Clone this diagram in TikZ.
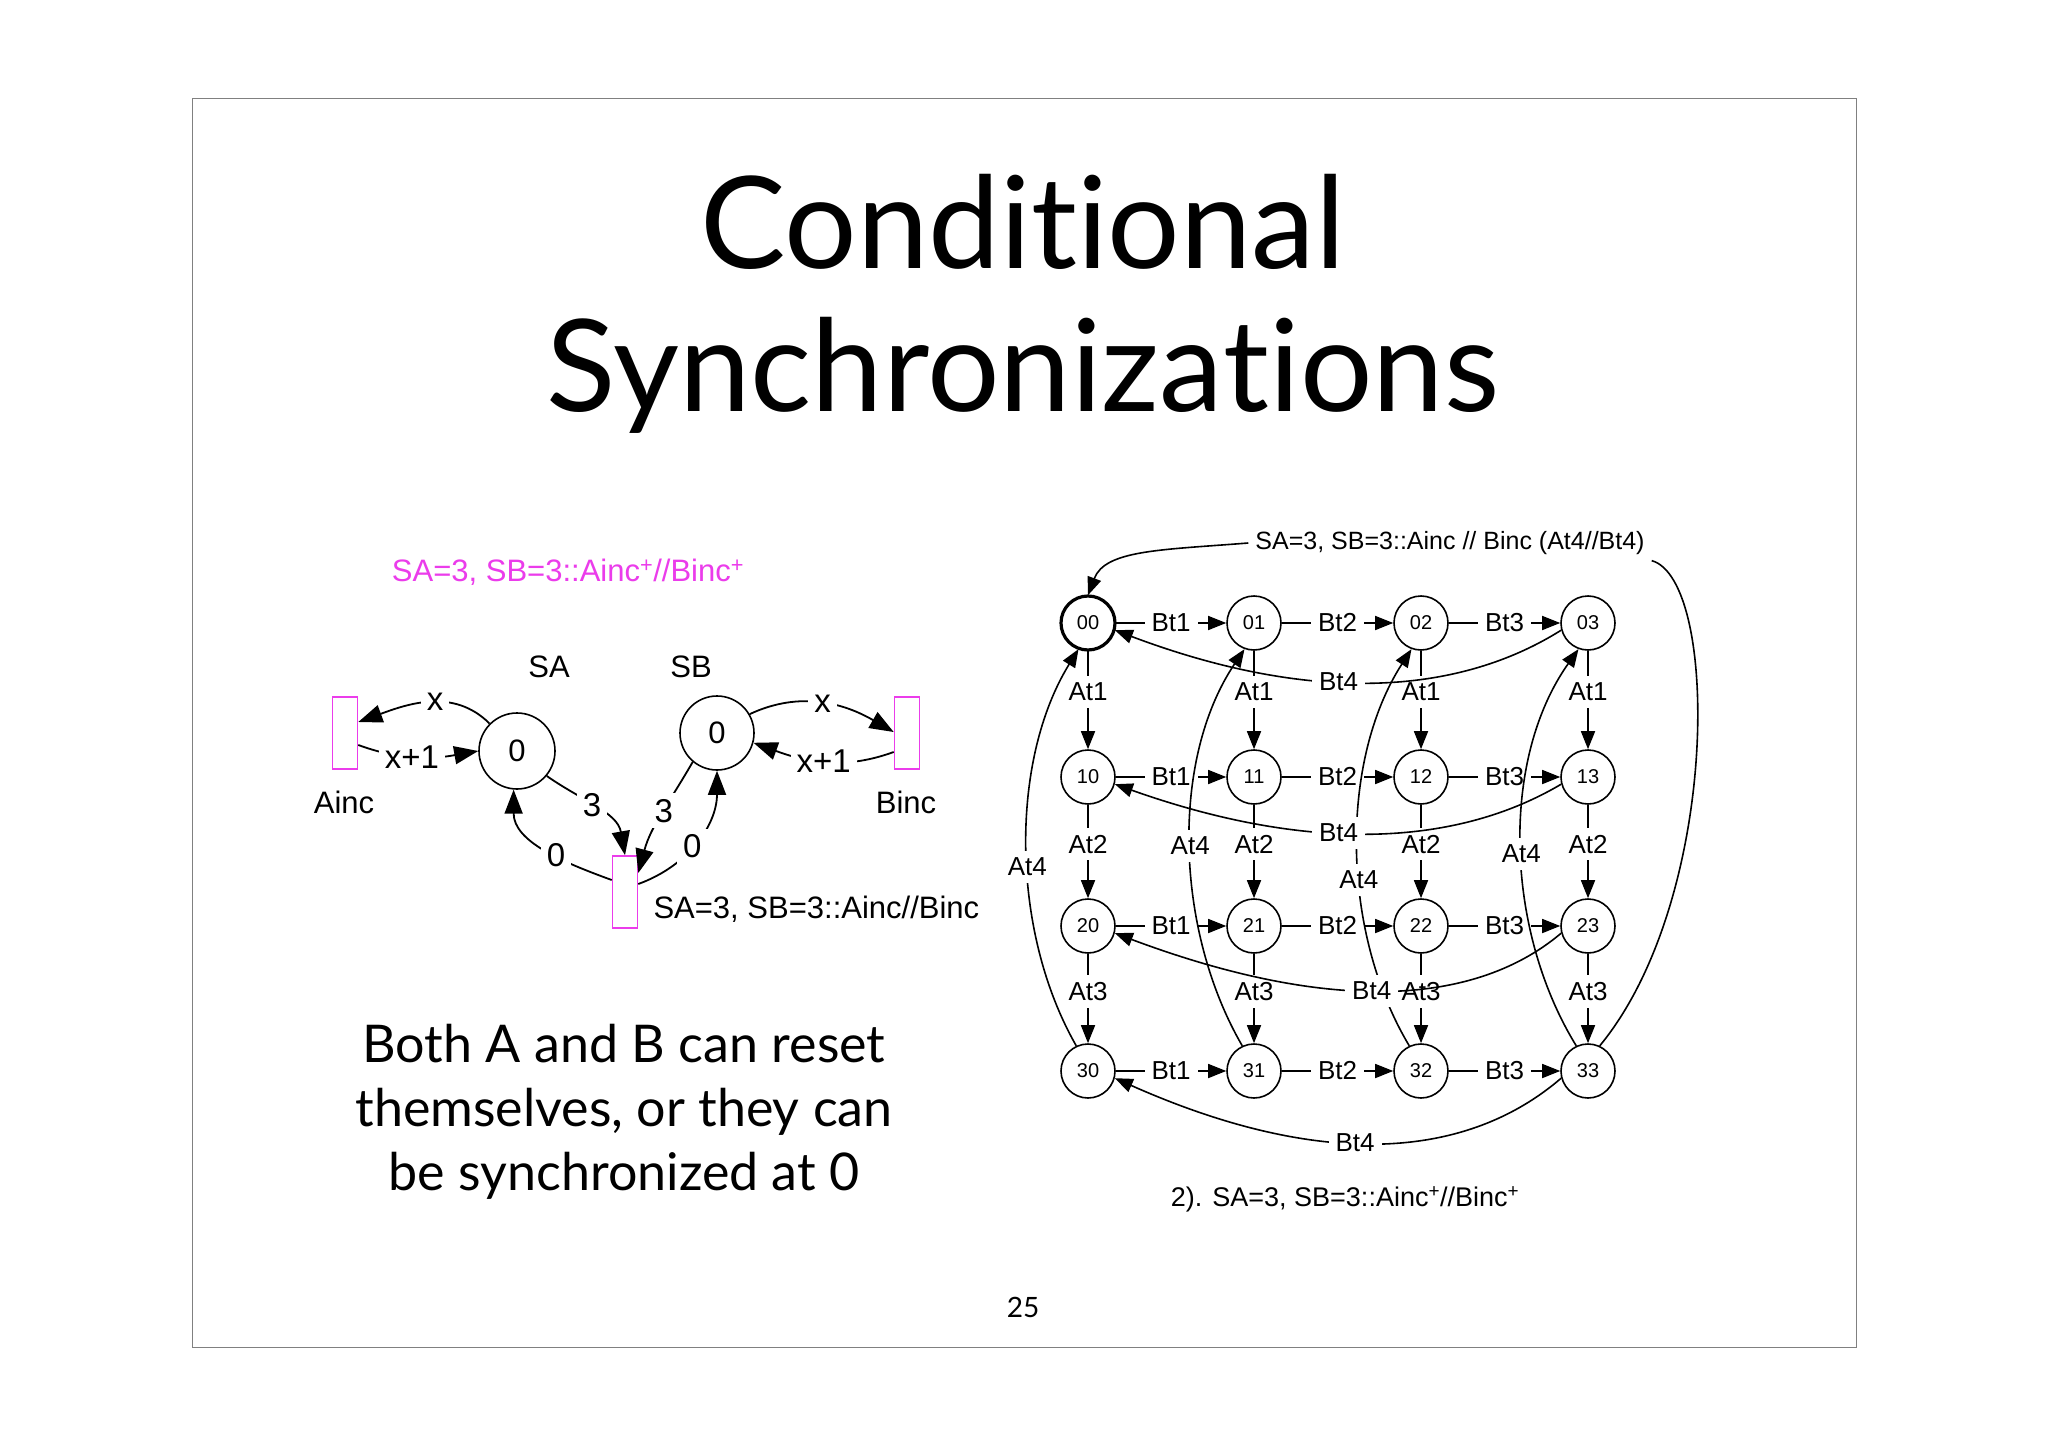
\documentclass[tikz,border=0pt]{standalone}
\usepackage{fontspec}
\setmainfont{Liberation Sans}
\newfontfamily\gill{Lato}
\usetikzlibrary{arrows.meta}
\definecolor{pinkm}{RGB}{235,60,235}
\begin{document}
\begin{tikzpicture}[x=1pt,y=-1pt,
  st/.style={circle,draw,line width=1.6pt,minimum size=54pt,inner sep=0pt,font=\fontsize{20}{20}\selectfont},
  arr/.style={line width=1.6pt,-{Triangle[length=18pt,width=14pt]}},
  arrb/.style={line width=1.8pt,-{Triangle[length=24pt,width=18pt]}},
  ln/.style={line width=1.6pt},
  lbl/.style={fill=white,inner sep=7pt,font=\fontsize{26}{26}\selectfont},
  lab/.style={fill=white,inner sep=6pt,font=\fontsize{33}{33}\selectfont},
  trans/.style={draw=pinkm,line width=1.6pt,minimum width=25pt,minimum height=72pt,inner sep=0pt}]
\useasboundingbox (0,0) rectangle (2048,1447);
\fill[white] (0,0) rectangle (2048,1447);
\draw[gray,line width=1pt] (192,99) rectangle (1856,1347);
\node[font=\gill\fontsize{128}{128}\selectfont] (t1) at (1023,222) {Condit\kern0pt ional};
\node[font=\gill\fontsize{128}{128}\selectfont] (t2) at (1023,375) {Synchroniza\kern0pt t\kern0pt ions};
\node[font=\gill\fontsize{28}{28}\selectfont] (pg) at (1023,1307) {25};
\node[font=\gill\fontsize{52}{64}\selectfont,align=center] (txt) at (624,1112) {Both A and B can reset\\themselves, or they can\\be synchronized at 0};

% left net
\node[text=pinkm,font=\fontsize{31}{31}\selectfont] (ptitle) at (568,572) {SA=3, SB=3::Ainc\textsuperscript{+}//Binc\textsuperscript{+}};
\node[trans] (ainc) at (345,733) {};
\node[trans] (binc) at (907,733) {};
\node[trans] (sync) at (625,892) {};
\node[circle,draw,line width=1.6pt,minimum width=72pt,minimum height=76pt,inner sep=0pt,font=\fontsize{31}{31}\selectfont] (sa) at (517,751) {0};
\node[circle,draw,line width=1.6pt,minimum width=72pt,minimum height=74pt,inner sep=0pt,font=\fontsize{31}{31}\selectfont] (sb) at (717,733) {0};
\node[font=\fontsize{31}{31}\selectfont] (lsa) at (549,667) {SA};
\node[font=\fontsize{31}{31}\selectfont] (lsb) at (691,667) {SB};
\node[font=\fontsize{31}{31}\selectfont] (lai) at (344,802) {Ainc};
\node[font=\fontsize{31}{31}\selectfont] (lbi) at (906,802) {Binc};
\node[font=\fontsize{31}{31}\selectfont,anchor=west] (lsy) at (650,909) {SA=3, SB=3::Ainc//Binc};
\draw[arrb] (sa.135) to[out=135,in=20] node[lab,pos=0.45]{x} (ainc.east |- 0,722);
\draw[arrb] (ainc.east |- 0,745) to[out=-20,in=190] node[lab,pos=0.45]{x+1} (sa.180);
\draw[arrb] (sa.-40) to[out=-35,in=100] node[lab,pos=0.45]{3} (sync.north);
\draw[arrb] (sync.west |- 0,880) to[out=160,in=-90] node[lab,pos=0.4]{0} (sa.-95);
\draw[arrb] (sb.-130) to[out=-120,in=75] node[lab,pos=0.45]{3} (sync.55);
\draw[arrb] (sync.east |- 0,884) to[out=20,in=-90] node[lab,pos=0.45]{0} (sb.-90);
\draw[arrb] (sb.30) to[out=25,in=150] node[lab,pos=0.5]{x} (binc.west |- 0,732);
\draw[arrb] (binc.west |- 0,752) to[out=200,in=-20] node[lab,pos=0.5]{x+1} (sb.-15);

% right graph
\foreach \r/\y in {0/623,1/777,2/926,3/1071}{
  \foreach \c/\x in {0/1088,1/1254,2/1421,3/1588}{
    \node[st] (n\r\c) at (\x,\y) {\r\c};
  }
}
\draw[line width=3.2pt] (n00) circle (27pt);
\foreach \r in {0,1,2,3}{
  \draw[arr] (n\r0) -- node[lbl]{Bt1} (n\r1);
  \draw[arr] (n\r1) -- node[lbl]{Bt2} (n\r2);
  \draw[arr] (n\r2) -- node[lbl]{Bt3} (n\r3);
}
\foreach \c in {0,1,2,3}{
  \draw[arr] (n0\c) -- node[lbl,pos=0.42]{At1} (n1\c);
  \draw[arr] (n1\c) -- node[lbl,pos=0.42]{At2} (n2\c);
  \draw[arr] (n2\c) -- node[lbl,pos=0.42]{At3} (n3\c);
}
\draw[arr] (n30.115) .. controls (1010,930) and (1010,760) .. node[lbl,pos=0.45]{At4} (n00.-110);
\draw[arr] (n31.115) .. controls (1175,930) and (1170,760) .. node[lbl,pos=0.5]{At4} (n01.-110);
\draw[arr] (n32.115) .. controls (1340,930) and (1340,760) .. node[lbl,pos=0.42]{At4} (n02.-110);
\draw[arr] (n33.115) .. controls (1505,930) and (1500,760) .. node[lbl,pos=0.48]{At4} (n03.-110);
\draw[arr] (n03.195) .. controls (1450,700) and (1300,700) .. node[lbl,pos=0.56]{Bt4} (n00.-15);
\draw[arr] (n13.195) .. controls (1450,850) and (1300,850) .. node[lbl,pos=0.56]{Bt4} (n10.-15);
\draw[arr] (n23.195) .. controls (1470,1010) and (1320,1010) .. node[lbl,pos=0.52]{Bt4} (n20.-15);
\draw[arr] (n33.195) .. controls (1460,1165) and (1310,1165) .. node[lbl,pos=0.54]{Bt4} (n30.-15);
\node[lbl,font=\fontsize{25}{25}\selectfont] (top) at (1450,543) {SA=3, SB=3::Ainc // Binc (At4//Bt4)};
\draw[ln] (n33.65) .. controls (1720,900) and (1720,580) .. (top.-5);
\draw[arr] (top.west) .. controls (1160,550) and (1105,550) .. (n00.north);
\node[font=\fontsize{27}{27}\selectfont] (cap) at (1345,1199) {2). SA=3, SB=3::Ainc\textsuperscript{+}//Binc\textsuperscript{+}};
\end{tikzpicture}
\end{document}
